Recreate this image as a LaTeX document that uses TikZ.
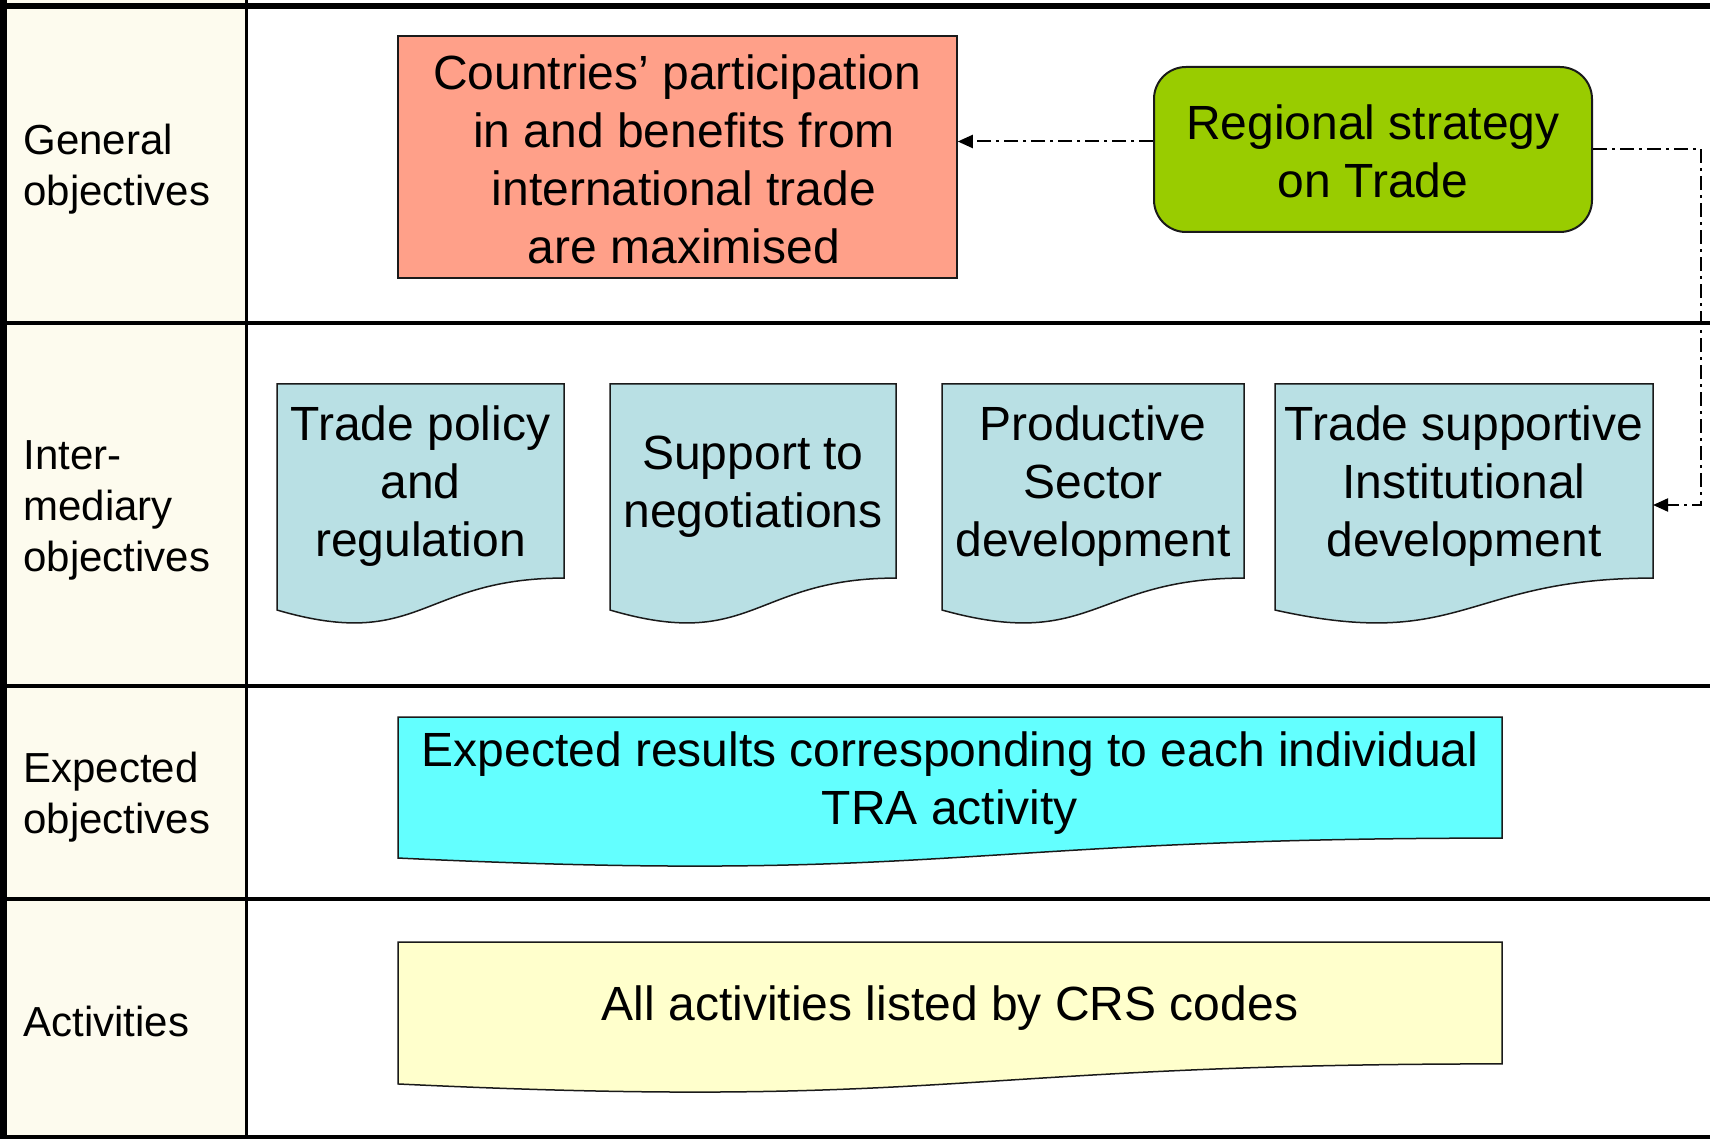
\documentclass[tikz,border=0pt]{standalone}
\usepackage{fontspec}
\setmainfont{Liberation Sans}
\usetikzlibrary{arrows.meta,calc}

\definecolor{labelbg}{HTML}{FDFBEE}
\definecolor{goalfill}{HTML}{FFA089}
\definecolor{stratfill}{HTML}{99CC00}
\definecolor{docfill}{HTML}{B9E0E4}
\definecolor{resfill}{HTML}{63FFFF}
\definecolor{actfill}{HTML}{FFFFCC}
\definecolor{boxline}{HTML}{1A1A1A}

% Flowchart "document" shape: name, x0, y0, x1, height, fill, text
\newcommand\docbox[7]{%
  \filldraw[fill=#6, draw=boxline, line width=0.75pt]
    (#2,#3) -- (#4,#3) -- (#4,{#3+0.802*#5})
    .. controls ({(#2+#4)/2},{#3+0.802*#5}) and ({(#2+#4)/2},{#3+1.1075*#5})
    .. (#2,{#3+0.934*#5}) -- cycle;
  \coordinate (#1-r) at (#4,{#3+0.5*#5});
  \node[boxtext] (#1) at ({(#2+#4)/2},{#3+0.401*#5+5.5}) {#7};
}

\begin{document}
\begin{tikzpicture}[x=0.5pt,y=-0.5pt,
  rowlabel/.style={anchor=west, align=left, inner sep=0pt,
    font=\fontsize{21}{25.5}\selectfont},
  boxtext/.style={align=center, inner sep=0pt,
    font=\fontsize{24}{29}\selectfont},
  rule/.style={line width=1.6pt},
  link/.style={line width=1pt,
    dash pattern=on 7pt off 2.5pt on 1.5pt off 2.5pt,
    -{Triangle[length=7.5pt,width=6.5pt]}},
]
\useasboundingbox (0,0) rectangle (1710,1139);
\fill[white] (0,0) rectangle (1710,1139);

% label column and table rules
\fill[labelbg] (0,0) rectangle (246,1139);
\draw[rule] (0,323) -- (1710,323);
\draw[rule] (0,686) -- (1710,686);
\draw[rule] (0,899) -- (1710,899);
\draw[line width=1.6pt] (246.5,0) -- (246.5,1139);
\draw[line width=3.5pt] (3.5,0) -- (3.5,1139);
\draw[line width=3pt] (0,6) -- (1710,6);
\draw[line width=2.5pt] (0,1137.5) -- (1710,1137.5);

% row labels
\node[rowlabel] (lgen) at (23,169.5) {General\\objectives};
\node[rowlabel] (lint) at (23,510) {Inter-\\mediary\\objectives};
\node[rowlabel] (lexp) at (23,797.5) {Expected\\objectives};
\node[rowlabel] (lact) at (23,1021) {Activities};

% general objective row
\node[draw=boxline, line width=0.75pt, fill=goalfill,
  minimum width=279.5pt, minimum height=121pt] (goal) at (677.5,157) {};
\node[boxtext] (goaltext) at (684,159)
  {Countries’ participation\hspace*{6.7pt}\\in and benefits from\\international trade\\are maximised};
\node[draw=boxline, line width=1pt, fill=stratfill, rounded corners=16pt,
  minimum width=219pt, minimum height=82.5pt] (reg) at (1373,149.5) {};
\node[boxtext] (regtext) at (1373,151) {Regional strategy\\on Trade};

% intermediary objectives
\docbox{tpr}{277}{384}{564}{242}{docfill}{Trade policy\\and\\regulation}
\docbox{stn}{610}{384}{896}{242}{docfill}{Support to\\negotiations}
\docbox{psd}{942}{384}{1244}{242}{docfill}{Productive\\Sector\\development}
\docbox{tsd}{1275}{384}{1653}{242}{docfill}{Trade supportive\\Institutional\\development}

% expected results and activities
\docbox{res}{398}{717}{1502}{151}{resfill}{Expected results corresponding to each individual\\TRA activity}
\docbox{act}{398}{942}{1502}{152}{actfill}{All activities listed by CRS codes}

% links from the regional strategy
\draw[link] ([yshift=4pt]reg.west) -- ([yshift=4pt]reg.west -| goal.east);
\draw[link] (reg.east) -- ++(108,0) |- (tsd-r);
\end{tikzpicture}
\end{document}
